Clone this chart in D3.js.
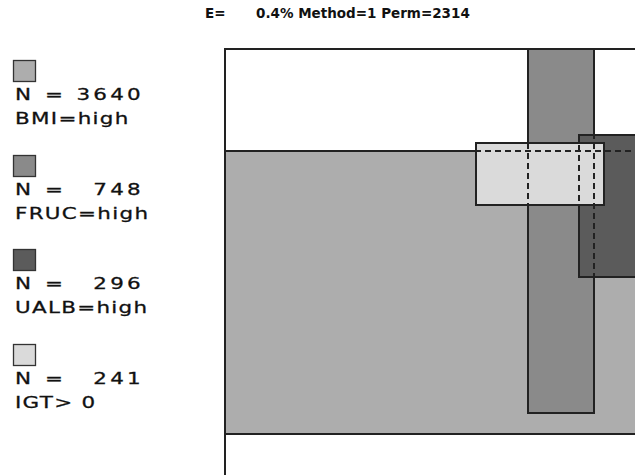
<!DOCTYPE html>
<html>
<head>
<meta charset="utf-8">
<script src="https://cdn.jsdelivr.net/npm/d3@7"></script>
<style>
	body { margin: 0; background: #fff; }
	svg { display: block; }
	.legend-text { font-family: "DejaVu Sans", sans-serif; font-size: 16.5px; fill: #111; stroke: #111; stroke-width: 0.3px; }
	.title { font-family: "DejaVu Sans", sans-serif; font-size: 13.5px; font-weight: bold; fill: #111; }
	.set, .set-outline, .frame { shape-rendering: crispEdges; }
</style>
</head>
<body>
<div id="chart"></div>
<script>
// set names and counts shown in the legend
var setLabels = ["BMI=high", "FRUC=high", "UALB=high", "IGT> 0"];
var setCounts = [3640, 748, 296, 241];
var setColors = ["#adadad", "#8a8a8a", "#5b5b5b", "#dadada"];

// rectangle extents of each set, as fractions of the universe box
var setX0 = [0.000, 0.721, 0.843, 0.598];
var setX1 = [1.000, 0.879, 1.000, 0.902];
var setY0 = [0.234, 0.000, 0.197, 0.216];
var setY1 = [0.883, 0.835, 0.523, 0.358];

// header values
var stressValue = "0.4%";
var methodValue = 1;
var permValue = 2314;

/**
 * @class
 * Rectangle diagram renderer
 * @param {Object} options
 */
class RectDiagram {
	constructor(options) {
		this._options = options;

		// universe box, it runs off the right and bottom edges of the page
		this._x = d3.scaleLinear().domain([0, 1]).range([225, 645]);
		this._y = d3.scaleLinear().domain([0, 1]).range([49, 485]);

		this._sets = setLabels.map(function (label, i) {
			return {
				label: label,
				n: setCounts[i],
				color: setColors[i],
				x0: setX0[i], x1: setX1[i],
				y0: setY0[i], y1: setY1[i]
			};
		});
	}

	render(selector) {
		var o = this._options;
		this._svgEl = d3.select(selector).append("svg")
			.attr("width", o.width)
			.attr("height", o.height);

		this._renderTitle();
		this._renderLegend();
		this._renderRects();
		return this;
	}

	_renderTitle() {
		var t = this._svgEl.append("g");
		t.append("text").attr("class", "title")
			.attr("x", 205).attr("y", 18)
			.text("E=");
		t.append("text").attr("class", "title")
			.attr("x", 256).attr("y", 18)
			.text(stressValue + " Method=" + methodValue + " Perm=" + permValue);
	}

	_renderLegend() {
		var step = 94.7;
		var sx = 1.3; // the old plotter font is wide
		var items = this._svgEl.selectAll(".legend-item")
			.data(this._sets)
			.enter().append("g")
			.attr("class", "legend-item")
			.attr("transform", function (d, i) { return "translate(0," + Math.round(60 + i * step) + ")"; });

		items.append("rect")
			.attr("x", 13.5).attr("y", 0.5)
			.attr("width", 22).attr("height", 21)
			.attr("fill", function (d) { return d.color; })
			.attr("stroke", "#333")
			.attr("stroke-width", 1.3);

		function wide(sel, x, y) {
			return sel.append("text").attr("class", "legend-text")
				.attr("transform", "translate(" + x + "," + y + ") scale(" + sx + ",1)");
		}

		wide(items, 15, 40).text("N");
		wide(items, 45, 40).text("=");
		wide(items, 144, 40)
			.attr("text-anchor", "end")
			.attr("letter-spacing", 2.5)
			.text(function (d) { return d.n; });
		wide(items, 15, 64)
			.attr("letter-spacing", 1)
			.text(function (d) { return d.label; });
	}

	_renderRects() {
		var x = this._x, y = this._y;
		var g = this._svgEl.append("g");

		// universe frame
		g.append("rect")
			.attr("class", "frame")
			.attr("x", x(0)).attr("y", y(0))
			.attr("width", x(1) - x(0)).attr("height", y(1) - y(0))
			.attr("fill", "#fff")
			.attr("stroke", "#222")
			.attr("stroke-width", 1.5);

		// filled set rectangles, later sets sit on top
		g.selectAll(".set")
			.data(this._sets)
			.enter().append("rect")
			.attr("class", "set")
			.attr("x", function (d) { return Math.round(x(d.x0)); })
			.attr("y", function (d) { return Math.round(y(d.y0)); })
			.attr("width", function (d) { return Math.round(x(d.x1)) - Math.round(x(d.x0)); })
			.attr("height", function (d) { return Math.round(y(d.y1)) - Math.round(y(d.y0)); })
			.attr("fill", function (d) { return d.color; })
			.attr("stroke", "#222")
			.attr("stroke-width", 1.5);

		// hidden edges show through as dashes
		g.selectAll(".set-outline")
			.data(this._sets)
			.enter().append("rect")
			.attr("class", "set-outline")
			.attr("x", function (d) { return Math.round(x(d.x0)); })
			.attr("y", function (d) { return Math.round(y(d.y0)); })
			.attr("width", function (d) { return Math.round(x(d.x1)) - Math.round(x(d.x0)); })
			.attr("height", function (d) { return Math.round(y(d.y1)) - Math.round(y(d.y0)); })
			.attr("fill", "none")
			.attr("stroke", "#222")
			.attr("stroke-width", 1.5)
			.attr("stroke-dasharray", "6,4");
	}
}

new RectDiagram({width: 635, height: 475}).render("#chart");
</script>
</body>
</html>
